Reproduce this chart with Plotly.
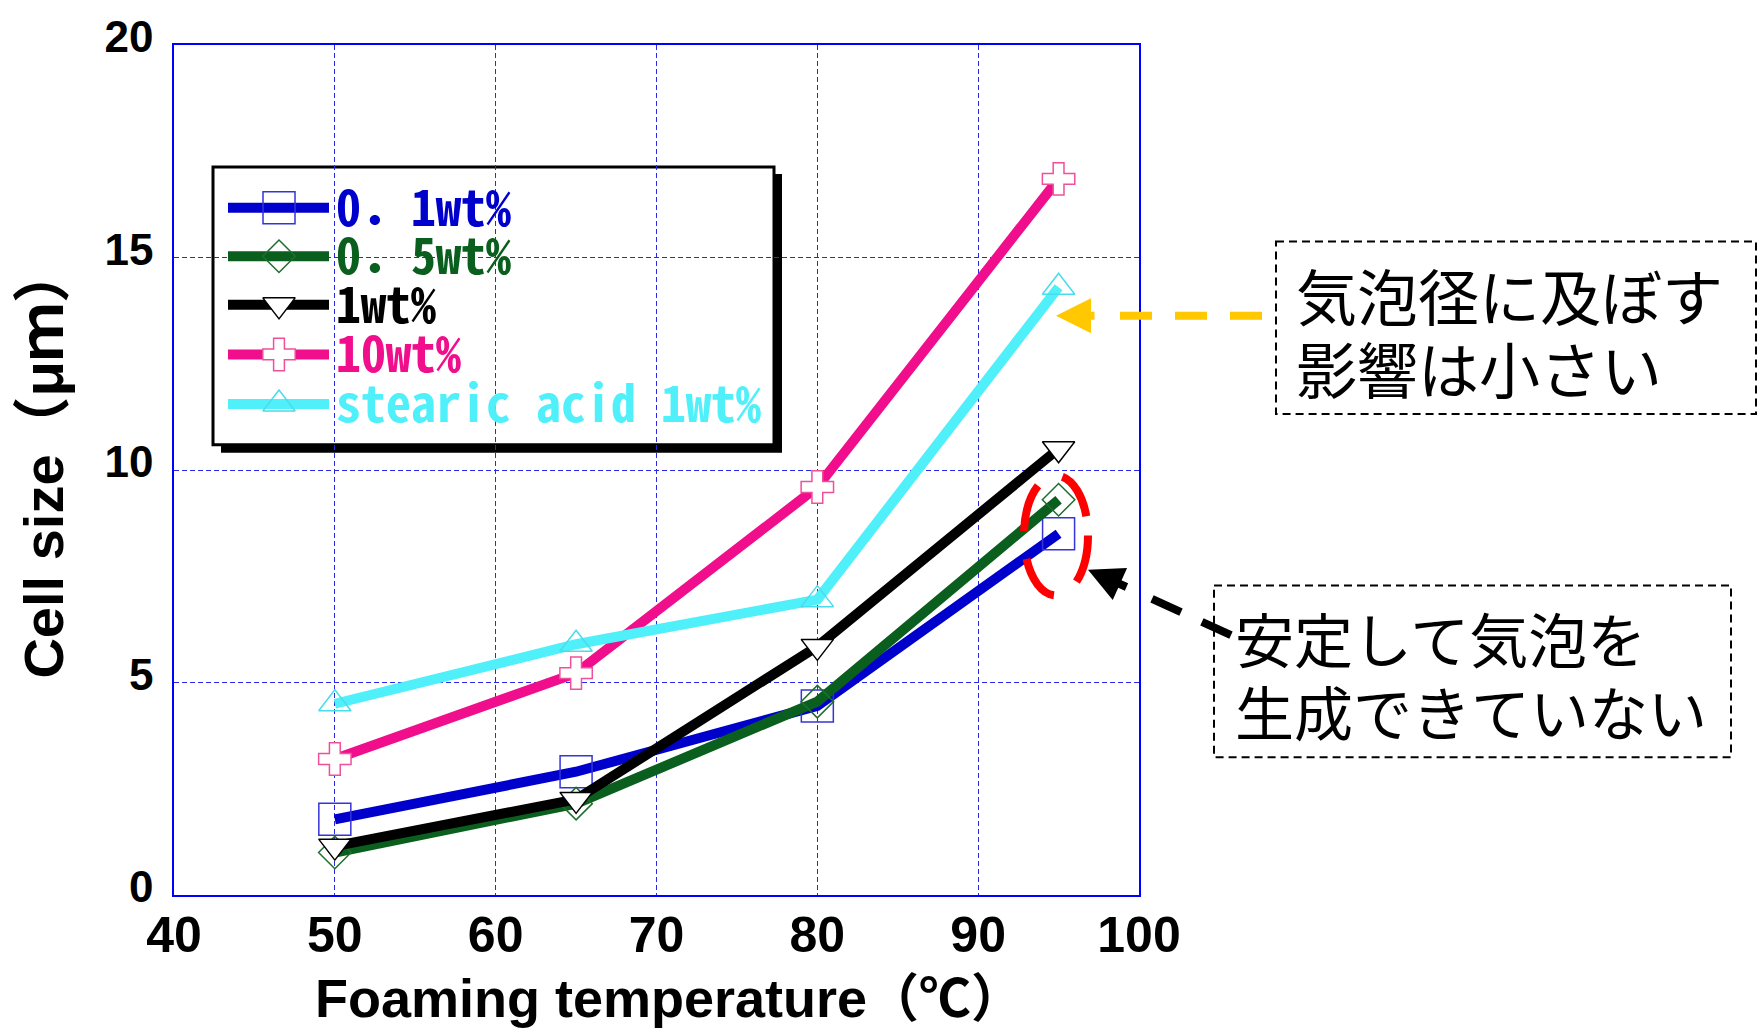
import plotly.graph_objects as go

# ---------------- data ----------------
temperature = [50, 65, 80, 95]
series_names = ["0．1wt%", "0．5wt%", "1wt%", "10wt%", "stearic acid 1wt%"]
size_01wt = [1.78, 2.90, 4.45, 8.50]
size_05wt = [1.00, 2.15, 4.55, 9.30]
size_1wt = [1.15, 2.25, 5.85, 10.50]
size_10wt = [3.20, 5.22, 9.60, 16.85]
size_stearic = [4.50, 5.90, 6.95, 14.30]
x_ticks = [40, 50, 60, 70, 80, 90, 100]
y_ticks = [0, 5, 10, 15, 20]
note_1 = ["気泡径に及ぼす", "影響は小さい"]
note_2 = ["安定して気泡を", "生成できていない"]
x_title = "Foaming temperature"
y_title = "Cell size"

series_values = [size_01wt, size_05wt, size_1wt, size_10wt, size_stearic]

# ---------------- styles ----------------
styles = [
    dict(color="#0000CD", symbol="square", size=32, fill="rgba(255,255,255,0)", edge="#3434D8"),
    dict(color="#0A5F1E", symbol="diamond", size=25, fill="rgba(255,255,255,0)", edge="#1E6E2E"),
    dict(color="#000000", symbol="triangle-down", size=28, fill="#FFFFFF", edge="#000000"),
    dict(color="#F00E8C", symbol="cross", size=27, fill="#FFFFFF", edge="#F0509A"),
    dict(color="#50F0FA", symbol="triangle-up", size=28, fill="rgba(255,255,255,0)", edge="#48DCEC"),
]

W, H = 1762, 1033
PL, PR, PT, PB = 174, 1139, 38, 895
XMIN, XMAX, YMIN, YMAX = 40, 100, 0, 20


def P(xpix):
    return (xpix - PL) / (PR - PL)


def Q(ypix):
    return (PB - ypix) / (PB - PT)


def DX(xpix):  # pixel -> data x (legend decorations only)
    return XMIN + P(xpix) * (XMAX - XMIN)


def DY(ypix):
    return YMIN + Q(ypix) * (YMAX - YMIN)


fig = go.Figure()

for name, vals, st in zip(series_names, series_values, styles):
    fig.add_trace(go.Scatter(
        x=temperature, y=vals, name=name, mode="lines+markers",
        line=dict(color=st["color"], width=10),
        marker=dict(symbol=st["symbol"], size=st["size"], color=st["fill"],
                    line=dict(color=st["edge"], width=1.5)),
        showlegend=False,
    ))

# ---------------- hand-made legend ----------------
leg_rows = [202, 251, 300, 350, 400]
shapes = []
annotations = []
shapes.append(dict(type="rect", xref="paper", yref="paper", layer="between",
                   x0=P(221), x1=P(782), y0=Q(168), y1=Q(449),
                   fillcolor="black", line=dict(width=0)))
shapes.append(dict(type="rect", xref="paper", yref="paper", layer="between",
                   x0=P(213), x1=P(774), y0=Q(161), y1=Q(441),
                   fillcolor="white", line=dict(color="black", width=3)))
for row, st, name in zip(leg_rows, styles, series_names):
    fig.add_trace(go.Scatter(
        x=[DX(228), DX(329)], y=[DY(row), DY(row)], mode="lines",
        line=dict(color=st["color"], width=10), hoverinfo="skip", showlegend=False))
    fig.add_trace(go.Scatter(
        x=[DX(279)], y=[DY(row)], mode="markers", hoverinfo="skip", showlegend=False,
        marker=dict(symbol=st["symbol"], size=st["size"], color=st["fill"],
                    line=dict(color=st["edge"], width=1.5))))
    annotations.append(dict(xref="paper", yref="paper", x=P(334), y=Q(row - 4),
                            xanchor="left", yanchor="middle", showarrow=False,
                            text=name,
                            font=dict(family="Noto Sans Mono CJK JP, DejaVu Sans Mono, monospace",
                                      size=50, color=st["color"], weight="bold")))

# ---------------- notes ----------------
cjk = "Noto Sans CJK JP, Noto Sans CJK SC, sans-serif"
shapes.append(dict(type="rect", xref="paper", yref="paper", layer="above",
                   x0=P(1276), x1=P(1756), y0=Q(236), y1=Q(410),
                   line=dict(color="black", width=2, dash="8px,5px")))
shapes.append(dict(type="rect", xref="paper", yref="paper", layer="above",
                   x0=P(1214), x1=P(1731), y0=Q(583), y1=Q(756),
                   line=dict(color="black", width=2, dash="8px,5px")))
for txt, yy in zip(note_1, [290, 363]):
    annotations.append(dict(xref="paper", yref="paper", x=P(1294), y=Q(yy),
                            xanchor="left", yanchor="middle", showarrow=False,
                            text=txt, font=dict(family=cjk, size=61, color="black")))
for txt, yy in zip(note_2, [635, 709]):
    annotations.append(dict(xref="paper", yref="paper", x=P(1233), y=Q(yy),
                            xanchor="left", yanchor="middle", showarrow=False,
                            text=txt, font=dict(family=cjk, size=59, color="black")))

# yellow dashed arrow
shapes.append(dict(type="line", xref="paper", yref="paper", layer="above",
                   x0=P(1262), x1=P(1118), y0=Q(311), y1=Q(311),
                   line=dict(color="#FFC800", width=8, dash="32px,23px")))
annotations.append(dict(xref="paper", yref="paper", x=P(1056), y=Q(311),
                        ax=40, ay=0, text="", showarrow=True, arrowhead=2,
                        arrowwidth=8, arrowsize=0.875, arrowcolor="#FFC800", standoff=0))
# black dashed arrow
shapes.append(dict(type="line", xref="paper", yref="paper", layer="above",
                   x0=P(1231), x1=P(1152), y0=Q(633), y1=Q(596.5),
                   line=dict(color="black", width=8, dash="32px,23px")))
annotations.append(dict(xref="paper", yref="paper", x=P(1088), y=Q(567),
                        ax=40, ay=18, text="", showarrow=True, arrowhead=2,
                        arrowwidth=8, arrowsize=0.875, arrowcolor="black", standoff=0))
# red dashed ellipse
shapes.append(dict(type="circle", xref="paper", yref="paper", layer="above",
                   x0=P(1024), x1=P(1088), y0=Q(472), y1=Q(593),
                   line=dict(color="#FF0000", width=8, dash="48px,28px")))

# axis titles
annotations.append(dict(xref="paper", yref="paper", x=P(669), y=Q(999),
                        xanchor="center", yanchor="middle", showarrow=False,
                        text=x_title + "<span style='font-size:52px'>（℃）</span>",
                        font=dict(family="Liberation Sans, " + cjk, size=54,
                                  color="black", weight="bold")))
annotations.append(dict(xref="paper", yref="paper", x=P(43), y=Q(458),
                        xanchor="center", yanchor="middle", showarrow=False,
                        textangle=-90,
                        text=y_title + "<span style='font-size:58px'>（μｍ）</span>",
                        font=dict(family="Liberation Sans, " + cjk, size=56,
                                  color="black", weight="bold")))

grid_col = "#2828E6"
fig.update_layout(
    width=W, height=H,
    margin=dict(l=PL, r=W - PR, t=PT, b=H - PB, pad=0),
    paper_bgcolor="white", plot_bgcolor="white",
    showlegend=False,
    xaxis=dict(range=[XMIN, XMAX], tickvals=x_ticks, ticktext=[str(v) for v in x_ticks],
               showgrid=True, gridcolor=grid_col, gridwidth=1, griddash="5px,3px",
               zeroline=False, showline=True, linecolor="#0000FF", linewidth=1.5, mirror=True,
               ticks="", ticklabelstandoff=-5,
               tickfont=dict(family="Liberation Sans Narrow, Liberation Sans", size=50,
                             color="black", weight="bold")),
    yaxis=dict(range=[YMIN, YMAX], tickvals=y_ticks, ticktext=[str(v) for v in y_ticks],
               showgrid=True, gridcolor=grid_col, gridwidth=1, griddash="5px,3px",
               zeroline=False, showline=True, linecolor="#0000FF", linewidth=1.5, mirror=True,
               ticks="", ticklabelstandoff=10, ticklabelshift=-8,
               tickfont=dict(family="Liberation Sans", size=44, color="black", weight="bold")),
    shapes=shapes,
    annotations=annotations,
)

fig.write_html("out.html", config={"displayModeBar": False},
               post_script="document.body.style.margin='0';document.body.style.overflow='hidden';")
